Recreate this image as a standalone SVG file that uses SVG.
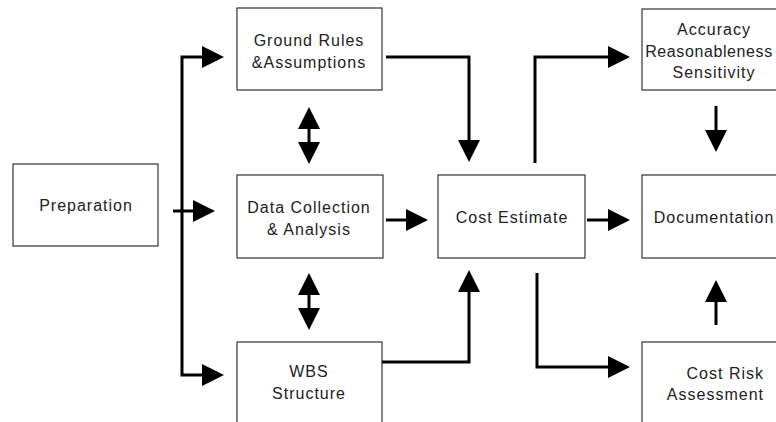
<svg xmlns="http://www.w3.org/2000/svg" width="776" height="422" viewBox="0 0 776 422">
<style>
  .box { fill: #ffffff; stroke: #333333; stroke-width: 1.2; }
  .lbl { font-family: "Liberation Sans", Arial, sans-serif; font-size: 16px; letter-spacing: 1px; fill: #222222; text-anchor: middle; }
  .end { text-anchor: end; }
  .conn { fill: none; stroke: #000000; stroke-width: 3; }
</style>
<defs>
  <marker id="ah" markerUnits="userSpaceOnUse" markerWidth="22" markerHeight="22" refX="0" refY="11" orient="auto-start-reverse" viewBox="0 0 22 22">
    <path d="M0,0 L22,11 L0,22 z" fill="#000000"/>
  </marker>
</defs>
<rect width="776" height="422" fill="#ffffff"/>

<g id="preparation">
  <rect class="box" x="13" y="164" width="145" height="82"/>
  <text class="lbl" x="86" y="211">Preparation</text>
</g>
<g id="ground-rules">
  <rect class="box" x="237" y="8" width="145" height="82"/>
  <text class="lbl" x="309" y="46">Ground Rules</text>
  <text class="lbl" x="309" y="68">&amp;Assumptions</text>
</g>
<g id="data-collection">
  <rect class="box" x="237" y="175" width="146" height="83"/>
  <text class="lbl" x="309" y="213">Data Collection</text>
  <text class="lbl" x="309" y="235">&amp; Analysis</text>
</g>
<g id="wbs">
  <rect class="box" x="237" y="342" width="145" height="90"/>
  <text class="lbl" x="309" y="377">WBS</text>
  <text class="lbl" x="309" y="399">Structure</text>
</g>
<g id="cost-estimate">
  <rect class="box" x="438" y="175" width="147" height="83"/>
  <text class="lbl" x="512" y="223">Cost Estimate</text>
</g>
<g id="accuracy">
  <rect class="box" x="642" y="9" width="150" height="81"/>
  <text class="lbl" x="714" y="35">Accuracy</text>
  <text class="lbl" x="709" y="57" style="letter-spacing:0.6px">Reasonableness</text>
  <text class="lbl" x="714" y="78">Sensitivity</text>
</g>
<g id="documentation">
  <rect class="box" x="642" y="175" width="150" height="83"/>
  <text class="lbl" x="714" y="223">Documentation</text>
</g>
<g id="cost-risk">
  <rect class="box" x="642" y="342" width="150" height="90"/>
  <text class="lbl end" x="764" y="379">Cost Risk</text>
  <text class="lbl end" x="764" y="400">Assessment</text>
</g>

<g id="connectors">
  <path class="conn" d="M173,211 H193" marker-end="url(#ah)"/>
  <path class="conn" d="M202,57 H182 V375 H202" marker-start="url(#ah)" marker-end="url(#ah)"/>
  <path class="conn" d="M386,57 H469 V140" marker-end="url(#ah)"/>
  <path class="conn" d="M382,362 H469 V292" marker-end="url(#ah)"/>
  <path class="conn" d="M309,129 V142" marker-start="url(#ah)" marker-end="url(#ah)"/>
  <path class="conn" d="M309,295 V308" marker-start="url(#ah)" marker-end="url(#ah)"/>
  <path class="conn" d="M386,220 H406" marker-end="url(#ah)"/>
  <path class="conn" d="M587,220 H608" marker-end="url(#ah)"/>
  <path class="conn" d="M535,163 V57 H608" marker-end="url(#ah)"/>
  <path class="conn" d="M716,106 V130" marker-end="url(#ah)"/>
  <path class="conn" d="M537,273 V367 H608" marker-end="url(#ah)"/>
  <path class="conn" d="M716,325 V302" marker-end="url(#ah)"/>
</g>
</svg>
